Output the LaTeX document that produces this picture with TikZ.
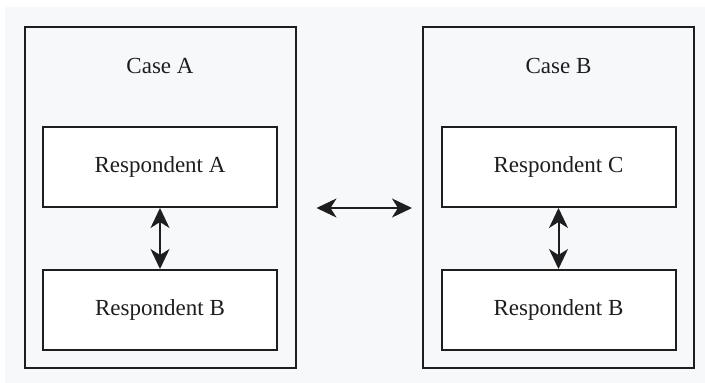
\documentclass[tikz,border=0pt]{standalone}
\usepackage{fontspec}
\setmainfont{Liberation Serif}
\usepackage{tikz}
\usetikzlibrary{arrows.meta,positioning}

\definecolor{bggray}{HTML}{F7F8FA}
\definecolor{ink}{HTML}{1E1E1E}

\begin{document}
\begin{tikzpicture}[x=1pt, y=-1pt, node distance=61pt, font=\fontsize{23}{27}\selectfont, line/.style={{Stealth[length=20pt,width=19pt,inset=6pt]}-{Stealth[length=20pt,width=19pt,inset=6pt]}, line width=2pt, draw=ink}, casebox/.style={rectangle, draw=ink, line width=2pt, fill=bggray, minimum width=271pt, minimum height=341pt, inner sep=0pt}, respbox/.style={rectangle, draw=ink, line width=2pt, fill=white, minimum width=234pt, minimum height=80pt, inner sep=0pt, text=ink}, title/.style={text=ink, inner sep=0pt}]
\useasboundingbox (0,0) rectangle (705,383);
\fill[bggray] (5,7) rectangle (705,383);
\node[casebox] (caseA) at (160,197.5) {};
\node[casebox] (caseB) at (558.5,197.5) {};
\node[title] (titleA) at ([yshift=-40pt]caseA.north) {Case A};
\node[title] (titleB) at ([yshift=-40pt]caseB.north) {Case B};
\node[respbox,below=100pt of caseA.north] (respA) {Respondent A};
\node[respbox,below=of respA] (respAB) {Respondent B};
\node[respbox,below=100pt of caseB.north] (respC) {Respondent C};
\node[respbox,below=of respC] (respCB) {Respondent B};
\draw[line] (respA) -- (respAB);
\draw[line] (respC) -- (respCB);
\draw[line,shorten <=20pt,shorten >=10pt] (caseA.east|-respA.south) -- (caseB.west|-respA.south);
\end{tikzpicture}
\end{document}
